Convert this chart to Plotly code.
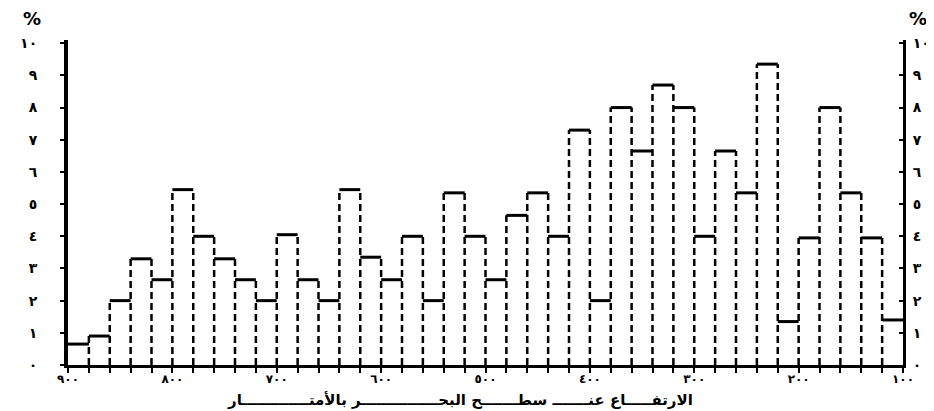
import plotly.graph_objects as go

# ---- data ----
bin_edges = [900, 880, 860, 840, 820, 800, 780, 760, 740, 720, 700,
             680, 660, 640, 620, 600, 580, 560, 540, 520, 500,
             480, 460, 440, 420, 400, 380, 360, 340, 320, 300,
             280, 260, 240, 220, 200, 180, 160, 140, 120, 100]
percent_values = [0.65, 0.9, 2.0, 3.3, 2.65, 5.45, 4.0, 3.3, 2.65, 2.0,
                  4.05, 2.65, 2.0, 5.45, 3.35, 2.65, 4.0, 2.0, 5.35, 4.0,
                  2.65, 4.65, 5.35, 4.0, 7.3, 2.0, 8.0, 6.65, 8.7, 8.0,
                  4.0, 6.65, 5.35, 9.35, 1.35, 3.95, 8.0, 5.35, 3.95, 1.4]
x_tick_vals = [900, 800, 700, 600, 500, 400, 300, 200, 100]
x_tick_text = ["٩٠٠", "٨٠٠", "٧٠٠", "٦٠٠", "٥٠٠", "٤٠٠", "٣٠٠", "٢٠٠", "١٠٠"]
y_tick_vals = [0, 1, 2, 3, 4, 5, 6, 7, 8, 9, 10]
y_tick_text = ["٠", "١", "٢", "٣", "٤", "٥", "٦", "٧", "٨", "٩", "١٠"]
x_title = "الارتفـــــاع عنـــــــ سطـــــــح البحـــــــــــــــر بالأمتـــــــــــــار"
unit_label = "%"

FONT = "DejaVu Sans"

# bar tops (solid)
top_x, top_y = [], []
for i, v in enumerate(percent_values):
    top_x += [bin_edges[i], bin_edges[i + 1], None]
    top_y += [v, v, None]

# bar sides (dashed)
side_x, side_y = [], []
for i in range(1, len(percent_values)):
    h = max(percent_values[i - 1], percent_values[i])
    side_x += [bin_edges[i], bin_edges[i], None]
    side_y += [0, h, None]

fig = go.Figure()
fig.add_trace(go.Scatter(x=side_x, y=side_y, mode="lines",
                         line=dict(color="black", width=2.5, dash="7px,4px"),
                         hoverinfo="skip", showlegend=False))
fig.add_trace(go.Scatter(x=top_x, y=top_y, mode="lines",
                         line=dict(color="black", width=3),
                         hoverinfo="skip", showlegend=False))
fig.add_trace(go.Scatter(x=[bin_edges[0]], y=[0], yaxis="y2", mode="markers",
                         marker=dict(opacity=0), hoverinfo="skip", showlegend=False))

fig.update_layout(
    width=934, height=411,
    margin=dict(l=43, r=27, t=32, b=54),
    plot_bgcolor="white", paper_bgcolor="white",
    font=dict(family=FONT, color="black", size=13),
    xaxis=dict(range=[900, 100], tickvals=x_tick_vals, ticktext=x_tick_text,
               showgrid=False, zeroline=False, showline=True, linecolor="black",
               linewidth=3, ticks="outside", ticklen=1, tickwidth=2,
               tickcolor="black", ticklabelstandoff=0,
               minor=dict(dtick=20, tick0=100, ticks="outside", ticklen=5,
                          tickwidth=2, tickcolor="black", showgrid=False),
               tickfont=dict(family=FONT, size=12, color="black", weight="bold")),
    yaxis=dict(range=[0, 10.1], tickvals=y_tick_vals, ticktext=y_tick_text,
               showgrid=False, zeroline=False, showline=True, linecolor="black",
               linewidth=4, ticks="outside", ticklen=4, tickwidth=2,
               tickcolor="black", ticklabelstandoff=20,
               tickfont=dict(family=FONT, size=14, color="black", weight="bold")),
    yaxis2=dict(range=[0, 10.1], tickvals=y_tick_vals, ticktext=y_tick_text,
                overlaying="y", side="right", matches="y",
                showgrid=False, zeroline=False, showline=True, linecolor="black",
                linewidth=3, ticks="inside", ticklen=4, tickwidth=2,
                tickcolor="black", ticklabelstandoff=4,
                tickfont=dict(family=FONT, size=14, color="black", weight="bold")),
    annotations=[
        dict(text=x_title, xref="paper", yref="paper", x=0.47, y=-0.108,
             xanchor="center", yanchor="middle", showarrow=False,
             font=dict(family=FONT, size=15, color="black", weight="bold")),
        dict(text=unit_label, xref="paper", yref="paper", x=1.005, y=1.065,
             xanchor="left", yanchor="middle", showarrow=False,
             font=dict(family=FONT, size=18, color="black", weight="bold")),
        dict(text=unit_label, xref="paper", yref="paper", x=-0.03, y=1.065,
             xanchor="right", yanchor="middle", showarrow=False,
             font=dict(family=FONT, size=18, color="black", weight="bold")),
    ],
)

fig.write_html("out.html")
